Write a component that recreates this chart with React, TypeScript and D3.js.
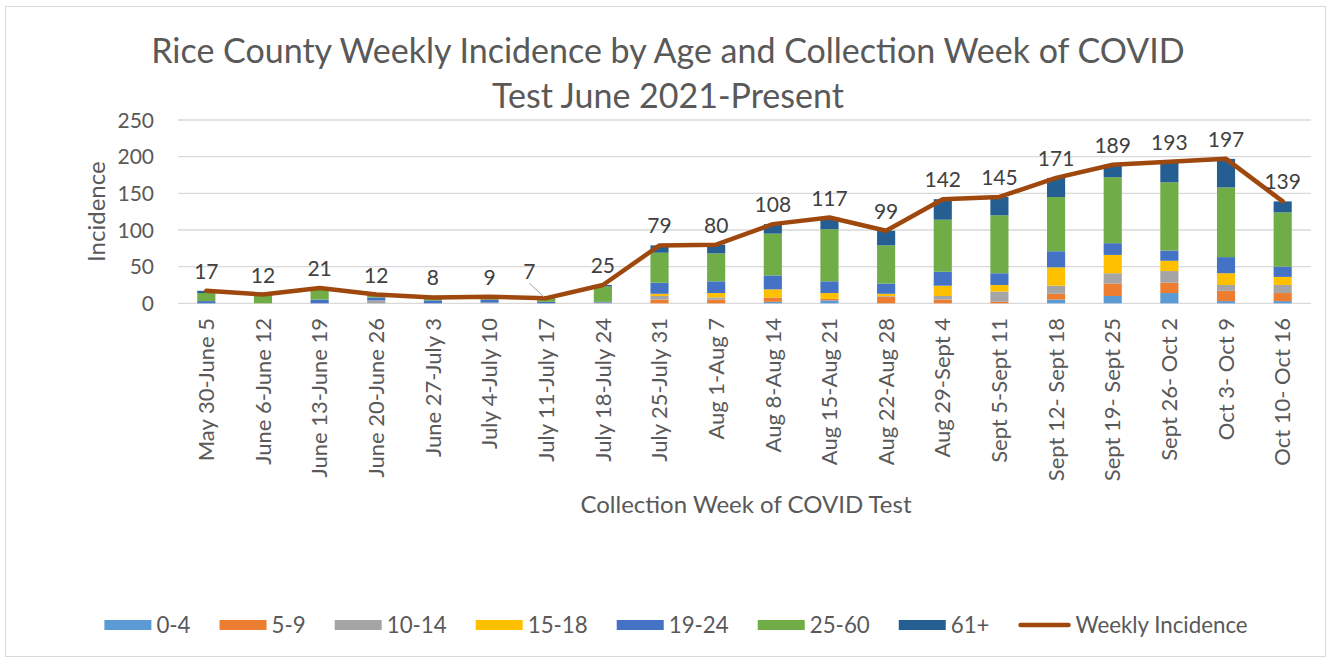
import { useEffect, useRef } from 'react'
import * as d3 from 'd3'

const weeks = [
  'May 30-June 5', 'June 6-June 12', 'June 13-June 19', 'June 20-June 26', 'June 27-July 3',
  'July 4-July 10', 'July 11-July 17', 'July 18-July 24', 'July 25-July 31', 'Aug 1-Aug 7',
  'Aug 8-Aug 14', 'Aug 15-Aug 21', 'Aug 22-Aug 28', 'Aug 29-Sept 4', 'Sept 5-Sept 11',
  'Sept 12- Sept 18', 'Sept 19- Sept 25', 'Sept 26- Oct 2', 'Oct 3- Oct 9', 'Oct 10- Oct 16',
]

const age0_4 = [0, 0, 0, 0, 0, 0, 0, 0, 0, 0, 2, 4, 0, 0, 0, 5, 10, 14, 3, 3]
const age5_9 = [0, 0, 0, 0, 0, 0, 0, 0, 5, 5, 6, 2, 9, 5, 2, 8, 17, 14, 14, 11]
const age10_14 = [0, 0, 0, 4, 0, 1, 0, 1, 5, 3, 0, 0, 1, 5, 14, 11, 14, 16, 8, 11]
const age15_18 = [0, 0, 0, 0, 0, 0, 0, 0, 3, 6, 11, 8, 3, 14, 9, 25, 25, 14, 16, 11]
const age19_24 = [3, 0, 5, 4, 4, 4, 2, 1, 15, 16, 19, 16, 14, 19, 16, 22, 16, 14, 22, 14]
const age25_60 = [11, 12, 14, 4, 4, 4, 5, 21, 41, 38, 57, 71, 52, 71, 79, 74, 90, 93, 95, 74]
const age61 = [3, 0, 2, 0, 0, 0, 0, 2, 10, 12, 13, 16, 20, 28, 25, 26, 17, 28, 39, 15]

const weeklyIncidence = [17, 12, 21, 12, 8, 9, 7, 25, 79, 80, 108, 117, 99, 142, 145, 171, 189, 193, 197, 139]

const groupNames = ['0-4', '5-9', '10-14', '15-18', '19-24', '25-60', '61+']
const groupValues = [age0_4, age5_9, age10_14, age15_18, age19_24, age25_60, age61]
const groupColors = ['#5b9bd5', '#ed7d31', '#a5a5a5', '#ffc000', '#4472c4', '#70ad47', '#255e91']
const lineColor = '#9e480e'
const yTicks = [0, 50, 100, 150, 200, 250]

const FONT = 'Lato, "Open Sans", sans-serif'

export default function App() {
  const ref = useRef<SVGSVGElement>(null)

  useEffect(() => {
    if (!ref.current) return
    document.body.style.margin = '0'
    const svg = d3.select(ref.current)
    svg.selectAll('*').remove()

    const left = 178
    const right = 1311
    const top = 120
    const bottom = 303.3

    svg.append('rect')
      .attr('x', 5.5).attr('y', 6.5)
      .attr('width', 1320).attr('height', 650)
      .attr('fill', '#fff')
      .attr('stroke', '#d9d9d9')

    // title
    const title = svg.append('text')
      .attr('text-anchor', 'middle')
      .attr('font-family', FONT)
      .attr('font-size', 34)
      .attr('fill', '#595959')
    title.append('tspan').attr('x', 668).attr('y', 63)
      .text('Rice County Weekly Incidence by Age and Collection Week of COVID')
    title.append('tspan').attr('x', 668).attr('y', 108)
      .text('Test June 2021-Present')

    const x = d3.scaleBand<string>()
      .domain(weeks)
      .range([left, right])
      .paddingInner(0.68)
      .paddingOuter(0.34)

    const y = d3.scaleLinear().domain([0, 250]).range([bottom, top])

    // gridlines + y labels
    svg.append('g')
      .selectAll('line')
      .data(yTicks)
      .join('line')
      .attr('x1', left).attr('x2', right)
      .attr('y1', d => y(d)).attr('y2', d => y(d))
      .attr('stroke', '#d9d9d9')
      .attr('stroke-width', 1.3)

    svg.append('g')
      .selectAll('text')
      .data(yTicks)
      .join('text')
      .attr('x', 154)
      .attr('y', d => y(d))
      .attr('dy', '0.36em')
      .attr('text-anchor', 'end')
      .attr('font-family', FONT)
      .attr('font-size', 21)
      .attr('fill', '#595959')
      .text(d => d)

    svg.append('text')
      .attr('transform', `translate(105,${(top + bottom) / 2}) rotate(-90)`)
      .attr('text-anchor', 'middle')
      .attr('font-family', FONT)
      .attr('font-size', 24)
      .attr('fill', '#595959')
      .text('Incidence')

    // stacked bars
    const rows = weeks.map((w, i) => {
      const r: any = { week: w }
      groupNames.forEach((g, k) => { r[g] = groupValues[k][i] })
      return r
    })
    const stack = d3.stack().keys(groupNames)(rows)

    svg.append('g')
      .selectAll('g')
      .data(stack)
      .join('g')
      .attr('fill', (_d, k) => groupColors[k])
      .selectAll('rect')
      .data(d => d)
      .join('rect')
      .attr('x', (d: any) => x(d.data.week)!)
      .attr('width', x.bandwidth())
      .attr('y', d => y(d[1]))
      .attr('height', d => y(d[0]) - y(d[1]))

    // weekly incidence line
    const cx = (i: number) => x(weeks[i])! + x.bandwidth() / 2
    const line = d3.line<number>()
      .x((_d, i) => cx(i))
      .y(d => y(d))

    svg.append('path')
      .datum(weeklyIncidence)
      .attr('d', line)
      .attr('fill', 'none')
      .attr('stroke', lineColor)
      .attr('stroke-width', 4.5)
      .attr('stroke-linejoin', 'round')
      .attr('stroke-linecap', 'round')

    // data labels (the 7 label is pulled aside with a leader line)
    const leaderIdx = 6
    svg.append('line')
      .attr('x1', cx(leaderIdx) - 17).attr('y1', y(weeklyIncidence[leaderIdx]) - 15)
      .attr('x2', cx(leaderIdx) - 2).attr('y2', y(weeklyIncidence[leaderIdx]) - 1)
      .attr('stroke', '#a6a6a6')
      .attr('stroke-width', 1)

    svg.append('g')
      .selectAll('text')
      .data(weeklyIncidence)
      .join('text')
      .attr('x', (_d, i) => cx(i) + (i === leaderIdx ? -17 : 0))
      .attr('y', (d, i) => y(d) - (i === leaderIdx ? 19 : 12))
      .attr('text-anchor', 'middle')
      .attr('font-family', FONT)
      .attr('font-size', 21)
      .attr('fill', '#404040')
      .text(d => d)

    // x labels
    svg.append('g')
      .selectAll('text')
      .data(weeks)
      .join('text')
      .attr('transform', (d) => `translate(${x(d)! + x.bandwidth() / 2},318) rotate(-90)`)
      .attr('dy', '0.35em')
      .attr('text-anchor', 'end')
      .attr('font-family', FONT)
      .attr('font-size', 22)
      .attr('fill', '#595959')
      .text(d => d)

    svg.append('text')
      .attr('x', 746)
      .attr('y', 513)
      .attr('text-anchor', 'middle')
      .attr('font-family', FONT)
      .attr('font-size', 24)
      .attr('fill', '#595959')
      .text('Collection Week of COVID Test')

    // legend
    const legend = svg.append('g')
    const items = [...groupNames.map((n, k) => ({ name: n, color: groupColors[k], isLine: false })),
      { name: 'Weekly Incidence', color: lineColor, isLine: true }]
    let cursor = 0
    const ly = 625
    items.forEach(it => {
      const g = legend.append('g').attr('transform', `translate(${cursor},0)`)
      if (it.isLine) {
        g.append('line')
          .attr('x1', 2).attr('x2', 50)
          .attr('y1', ly).attr('y2', ly)
          .attr('stroke', it.color)
          .attr('stroke-width', 4.5)
          .attr('stroke-linecap', 'round')
      } else {
        g.append('rect')
          .attr('x', 0).attr('y', ly - 5)
          .attr('width', 47).attr('height', 10)
          .attr('fill', it.color)
      }
      const t = g.append('text')
        .attr('x', it.isLine ? 57 : 52)
        .attr('y', ly)
        .attr('dy', '0.35em')
        .attr('font-family', FONT)
        .attr('font-size', 22.3)
        .attr('fill', '#595959')
        .text(it.name)
      const tw = (t.node() as SVGTextElement).getComputedTextLength()
      cursor += (it.isLine ? 57 : 52) + tw + 29
    })
    const total = cursor - 29
    legend.attr('transform', `translate(${676 - total / 2},0)`)
  }, [])

  return <svg ref={ref} width={1331} height={663} style={{ display: 'block' }} />
}
